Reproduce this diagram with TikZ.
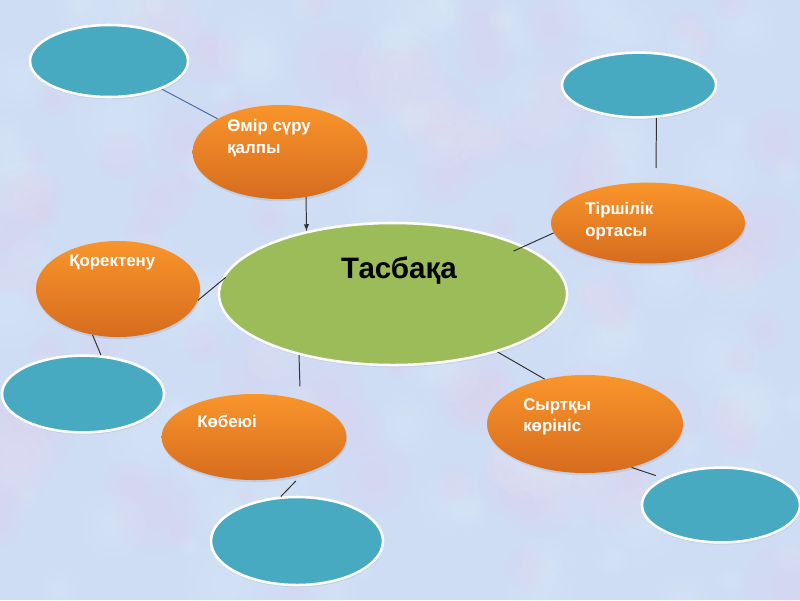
\documentclass[tikz,border=0pt]{standalone}
\usepackage{fontspec}
\setmainfont{Liberation Sans}
\usetikzlibrary{shapes,calc,shadows}

\definecolor{bgblue}{RGB}{206,221,244}
\definecolor{bgpink}{RGB}{234,204,236}
\definecolor{bglite}{RGB}{228,239,252}
\definecolor{orTop}{RGB}{249,149,43}
\definecolor{orBot}{RGB}{214,108,30}
\definecolor{tealfill}{RGB}{72,170,193}
\definecolor{greenfill}{RGB}{156,188,90}
\definecolor{linkblue}{RGB}{78,108,168}

\tikzset{
  topic/.style={ellipse, draw=none, top color=orTop, bottom color=orBot, inner sep=0pt,
    drop shadow={opacity=0.18, shadow xshift=0.6pt, shadow yshift=-1.6pt}},
  blank/.style={ellipse, draw=white, line width=1.8pt, fill=tealfill, inner sep=0pt,
    drop shadow={opacity=0.15, shadow xshift=0.6pt, shadow yshift=-1.6pt}},
  core/.style={ellipse, draw=white, line width=1.8pt, fill=greenfill, inner sep=0pt,
    drop shadow={opacity=0.15, shadow xshift=0.6pt, shadow yshift=-1.6pt}},
  toptext/.style={anchor=north west, inner sep=0pt, align=left, text=white,
    font=\bfseries\fontsize{12}{15.5}\selectfont},
  link/.style={draw=black!80, line width=0.7pt},
}

\begin{document}
\begin{tikzpicture}[x=0.025cm, y=-0.025cm]
\useasboundingbox (0,0) rectangle (800,600);
%background
\fill[bgblue] (0,0) rectangle (800,600);
\pgfmathsetseed{11}
\foreach \c in {bgpink,bglite}{
  \foreach \i in {1,...,110}{
    \pgfmathsetmacro{\bx}{rnd*800}
    \pgfmathsetmacro{\by}{rnd*600}
    \pgfmathsetmacro{\br}{10+rnd*35}
    \foreach \f in {1,0.7,0.4}
      \fill[\c, opacity=0.09] (\bx,\by) circle[x radius=\f*\br, y radius=\f*\br];
  }
}
%ellipses
\path (109,61) node[blank, minimum width=3.95cm, minimum height=1.8cm] (tl) {};
\path (639,85) node[blank, minimum width=3.85cm, minimum height=1.62cm] (tr) {};
\path (83,394) node[blank, minimum width=4.05cm, minimum height=1.92cm] (lft) {};
\path (297,541) node[blank, minimum width=4.3cm, minimum height=2.2cm] (bot) {};
\path (721,505) node[blank, minimum width=3.95cm, minimum height=1.87cm] (br) {};
\path (280,152) node[topic, minimum width=4.37cm, minimum height=2.35cm] (omir) {};
\path (648,223) node[topic, minimum width=4.85cm, minimum height=2.02cm] (orta) {};
\path (118,289) node[topic, minimum width=4.1cm, minimum height=2.4cm] (korek) {};
\path (254,437) node[topic, minimum width=4.62cm, minimum height=2.15cm] (kob) {};
\path (585,424) node[topic, minimum width=4.9cm, minimum height=2.45cm] (syr) {};
\path (393,294) node[core, minimum width=8.7cm, minimum height=3.55cm] (tas) {};
%texts
\path (227,119) node[toptext] (omir-t) {Өмір сүру\\қалпы};
\path (585,202) node[toptext] (orta-t) {Тіршілік\\ортасы};
\path (69,255) node[toptext] (korek-t) {Қоректену};
\path (197,415) node[toptext] (kob-t) {Көбеюі};
\path (523,398) node[toptext] (syr-t) {Сыртқы\\көрініс};
\path (399,278) node[anchor=base, inner sep=0pt, font=\bfseries\fontsize{21}{25}\selectfont] (tas-t) {Тасбақа};
%links
\draw[linkblue, line width=0.7pt] (tl) -- (omir);
\draw[->, >=latex, link] (omir.-60) -- (tas.144);
\coordinate (orta-in) at (656,168);
\draw[link] (tr.-62) -- (orta-in);
\draw[link, shorten <=-0.3cm] (tas.20) -- (orta.186);
\draw[link, shorten >=-0.18cm] (korek.-8) -- (tas.176);
\draw[link] (korek.-119) -- (lft.65);
\draw[link, shorten >=0.33cm] (tas.-147) -- (kob.39);
\draw[link, shorten <=0.25cm] (kob.-37) -- (bot.110);
\draw[link] (tas.-29) -- (syr.132);
\draw[link, shorten >=0.2cm] (syr.-43) -- (br.155);
\end{tikzpicture}
\end{document}
